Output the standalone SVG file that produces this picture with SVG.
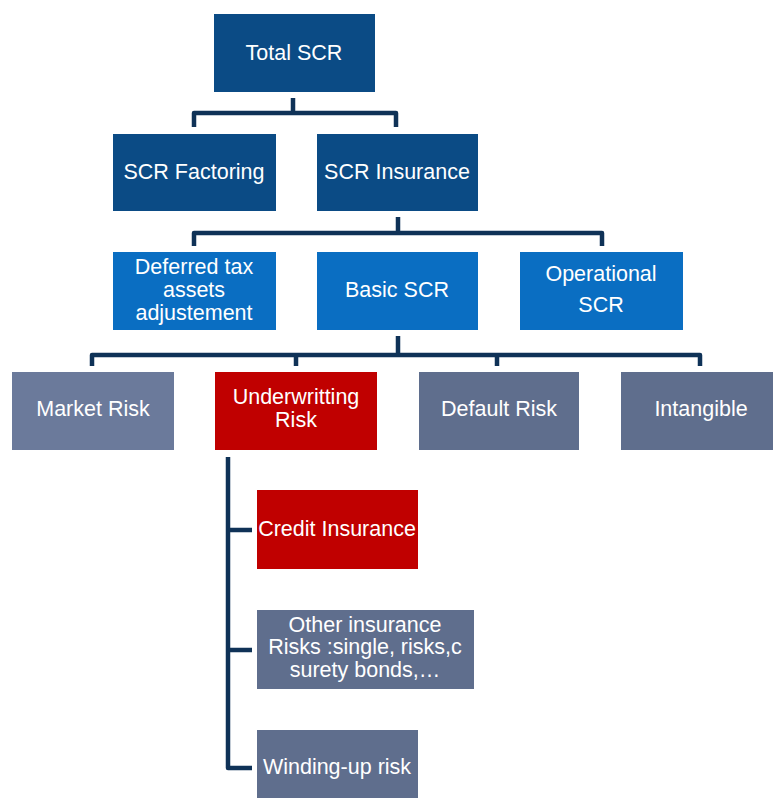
<svg xmlns="http://www.w3.org/2000/svg" width="773" height="798" viewBox="0 0 773 798">
<style>
.t{font-family:"Liberation Sans",Arial,sans-serif;font-size:21.5px;fill:#fff;text-anchor:middle}
.dk{fill:#0B4B85}
.md{fill:#0A6EC2}
.gr{fill:#5F6E8D}
.lg{fill:#6B7A9B}
.rd{fill:#C00000}
.c{fill:none;stroke:#0F3257;stroke-width:4.5;stroke-linejoin:round;stroke-linecap:butt}
</style>
<rect width="773" height="798" fill="#fff"/>
<g id="connectors">
<path class="c" d="M293,98 V113 M194,127 V113 H396 V127"/>
<path class="c" d="M398,217 V233 M194,246 V233 H602 V246"/>
<path class="c" d="M398,336 V355 M92,366 V355 H700 V366 M296,355 V366 M497,355 V366"/>
<path class="c" d="M228,457 V768 H252 M228,530 H252 M228,650 H252"/>
</g>
<g id="total"><rect class="dk" x="214" y="14" width="161" height="78"/><text class="t" x="294" y="60">Total SCR</text></g>
<g id="factoring"><rect class="dk" x="113" y="134" width="163" height="77"/><text class="t" x="194" y="179">SCR Factoring</text></g>
<g id="insurance"><rect class="dk" x="317" y="134" width="161" height="77"/><text class="t" x="397" y="179">SCR Insurance</text></g>
<g id="deferred"><rect class="md" x="113" y="252" width="163" height="78"/><text class="t" x="194" y="274">Deferred tax</text><text class="t" x="194" y="297">assets</text><text class="t" x="194" y="320">adjustement</text></g>
<g id="basic"><rect class="md" x="317" y="252" width="161" height="78"/><text class="t" x="397" y="297">Basic SCR</text></g>
<g id="operational"><rect class="md" x="520" y="252" width="163" height="78"/><text class="t" x="601" y="281">Operational</text><text class="t" x="601" y="312">SCR</text></g>
<g id="market"><rect class="lg" x="12" y="372" width="162" height="78"/><text class="t" x="93" y="416">Market Risk</text></g>
<g id="underwriting"><rect class="rd" x="215" y="372" width="162" height="78"/><text class="t" x="296" y="404">Underwritting</text><text class="t" x="296" y="427">Risk</text></g>
<g id="default"><rect class="gr" x="419" y="372" width="160" height="78"/><text class="t" x="499" y="416">Default Risk</text></g>
<g id="intangible"><rect class="gr" x="621" y="372" width="152" height="78"/><text class="t" x="701" y="416">Intangible</text></g>
<g id="credit"><rect class="rd" x="257" y="490" width="161" height="79"/><text class="t" x="337" y="536">Credit Insurance</text></g>
<g id="other"><rect class="gr" x="257" y="610" width="217" height="79"/><text class="t" x="365" y="632">Other insurance</text><text class="t" x="365" y="654">Risks :single, risks,c</text><text class="t" x="365" y="677">surety bonds,…</text></g>
<g id="winding"><rect class="gr" x="257" y="730" width="161" height="68"/><text class="t" x="337" y="774">Winding-up risk</text></g>
</svg>
